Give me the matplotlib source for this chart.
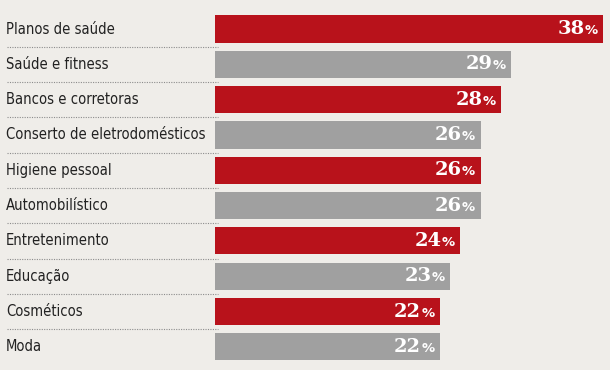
import matplotlib
matplotlib.use("Agg")
import matplotlib.pyplot as plt
from matplotlib.lines import Line2D
from matplotlib.offsetbox import TextArea, HPacker, AnnotationBbox
from matplotlib.transforms import blended_transform_factory

# Data
categories = ["Planos de saúde", "Saúde e fitness", "Bancos e corretoras",
              "Conserto de eletrodomésticos", "Higiene pessoal", "Automobilístico",
              "Entretenimento", "Educação", "Cosméticos", "Moda"]
values = [38, 29, 28, 26, 26, 26, 24, 23, 22, 22]

RED = "#b8121b"
GREY = "#a0a0a0"
BG = "#efede9"
colors = [RED if i % 2 == 0 else GREY for i in range(len(values))]

W, H = 610, 370
fig = plt.figure(figsize=(W / 100, H / 100), dpi=100, facecolor=BG)
ax = fig.add_axes([215 / W, 0, 1 - 215 / W, 1])
ax.set_facecolor(BG)

ypos = list(range(len(categories)))
ax.barh(ypos, values, height=0.765, color=colors)
ax.set_xlim(0, 395 / 10.22)
ax.set_ylim(9.652, -0.821)
ax.axis("off")

trans = blended_transform_factory(fig.transFigure, ax.transData)
for i, cat in enumerate(categories):
    ax.text(6 / W, i, cat, transform=trans, ha="left", va="center",
            fontsize=10.6, color="#222222", family="DejaVu Sans",
            fontstretch="condensed", clip_on=False)

# dotted separators
for i in range(len(categories) - 1):
    ax.add_line(Line2D([7 / W, 218 / W], [i + 0.5, i + 0.5], transform=trans,
                       color="#8c8c8c", linewidth=0.8, linestyle=(0, (1, 1.2)),
                       clip_on=False))

# value labels: big number + small percent sign
for i, v in enumerate(values):
    num = TextArea(str(v), textprops=dict(color="white", fontsize=14,
                                          fontweight="bold", family="DejaVu Serif"))
    pct = TextArea("%", textprops=dict(color="white", fontsize=9.5,
                                       fontweight="bold", family="DejaVu Sans"))
    box = HPacker(children=[num, pct], align="baseline", pad=0, sep=0)
    ab = AnnotationBbox(box, (v, i), xybox=(-4, 0), xycoords="data",
                        boxcoords="offset points", box_alignment=(1, 0.5),
                        frameon=False, pad=0)
    ax.add_artist(ab)

fig.savefig("out.png", dpi=100, facecolor=BG)
